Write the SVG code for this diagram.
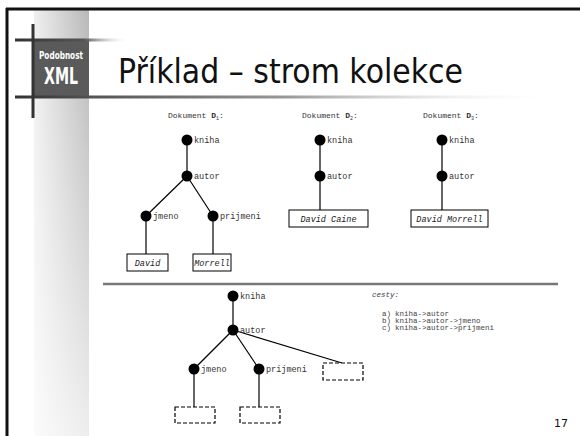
<svg xmlns="http://www.w3.org/2000/svg" width="580" height="436" viewBox="0 0 580 436">
<defs>
<linearGradient id="bandH" x1="0" y1="0" x2="1" y2="0">
<stop offset="0" stop-color="#f0f0f0"/><stop offset="1" stop-color="#b8b8b8"/>
</linearGradient>
<linearGradient id="bandV" x1="0" y1="0" x2="0" y2="1">
<stop offset="0" stop-color="#ffffff" stop-opacity="0"/><stop offset="1" stop-color="#ffffff" stop-opacity="0.75"/>
</linearGradient>
<linearGradient id="fadeShort" x1="0" y1="0" x2="1" y2="0">
<stop offset="0" stop-color="#333"/><stop offset="0.6" stop-color="#555"/><stop offset="1" stop-color="#fff" stop-opacity="0"/>
</linearGradient>
<linearGradient id="fadeLong" x1="0" y1="0" x2="1" y2="0">
<stop offset="0" stop-color="#333"/><stop offset="0.15" stop-color="#555"/><stop offset="0.5" stop-color="#999"/><stop offset="1" stop-color="#fff" stop-opacity="0"/>
</linearGradient>
<style>
.edge{stroke:#000;stroke-width:1.2;fill:none}
.dot{fill:#000}
.lbl{font-family:"Liberation Mono",monospace;font-size:8.5px;fill:#333}
.doc{font-family:"Liberation Mono",monospace;font-size:8px;fill:#333}
.val{font-family:"Liberation Mono",monospace;font-size:8.5px;font-style:italic;fill:#222;text-anchor:middle}
.box{fill:#fff;stroke:#000;stroke-width:1}
.dbox{fill:#fff;stroke:#000;stroke-width:1.2;stroke-dasharray:4,2}
.path{font-family:"Liberation Mono",monospace;font-size:7.5px;fill:#444}
</style>
</defs>
<rect width="580" height="436" fill="#fff"/>
<!-- decorative band -->
<rect x="34" y="10" width="55" height="426" fill="url(#bandH)"/>
<rect x="34" y="10" width="55" height="426" fill="url(#bandV)"/>
<!-- frame -->
<line x1="6" y1="9" x2="580" y2="9" stroke="#111" stroke-width="3"/>
<line x1="7" y1="8" x2="7" y2="436" stroke="#111" stroke-width="3"/>
<!-- logo -->
<g id="logo">
<rect x="34" y="40" width="55" height="57" fill="#5a5a5a"/>
<rect x="15" y="38.5" width="115" height="3" fill="url(#fadeShort)"/>
<rect x="15" y="95.5" width="545" height="3" fill="url(#fadeLong)"/>
<line x1="33" y1="24" x2="33" y2="118" stroke="#333" stroke-width="3"/>
<text x="61" y="59" text-anchor="middle" font-family="'DejaVu Sans Condensed','DejaVu Sans',sans-serif" font-weight="bold" font-size="10" fill="#fff" textLength="44" lengthAdjust="spacingAndGlyphs">Podobnost</text>
<text x="61" y="84" text-anchor="middle" font-family="'DejaVu Sans Condensed','DejaVu Sans',sans-serif" font-weight="bold" font-size="23" fill="#fff" textLength="34" lengthAdjust="spacingAndGlyphs">XML</text>
</g>
<text x="118" y="83" font-family="'DejaVu Sans',sans-serif" font-size="34" fill="#111" textLength="345" lengthAdjust="spacingAndGlyphs">Příklad – strom kolekce</text>
<text x="568" y="427" text-anchor="end" font-family="'DejaVu Sans',sans-serif" font-size="11" fill="#111">17</text>

<!-- document headings -->
<text class="doc" x="168" y="118">Dokument <tspan font-weight="bold">D</tspan><tspan font-size="5" dy="1.5">1</tspan><tspan dy="-1.5">:</tspan></text>
<text class="doc" x="302" y="118">Dokument <tspan font-weight="bold">D</tspan><tspan font-size="5" dy="1.5">2</tspan><tspan dy="-1.5">:</tspan></text>
<text class="doc" x="423" y="118">Dokument <tspan font-weight="bold">D</tspan><tspan font-size="5" dy="1.5">3</tspan><tspan dy="-1.5">:</tspan></text>

<!-- connectors -->
<g id="connectors">
<line class="edge" x1="187" y1="140" x2="187" y2="176"/>
<line class="edge" x1="187" y1="176" x2="146" y2="216"/>
<line class="edge" x1="187" y1="176" x2="213" y2="216"/>
<line class="edge" x1="146" y1="216" x2="146" y2="254"/>
<line class="edge" x1="213" y1="216" x2="213" y2="254"/>
<line class="edge" x1="320" y1="140" x2="320" y2="176"/>
<line class="edge" x1="320" y1="176" x2="320" y2="210"/>
<line class="edge" x1="442" y1="140" x2="442" y2="176"/>
<line class="edge" x1="442" y1="176" x2="442" y2="210"/>
<line class="edge" x1="233" y1="296" x2="233" y2="330"/>
<line class="edge" x1="233" y1="330" x2="194" y2="369"/>
<line class="edge" x1="233" y1="330" x2="259" y2="369"/>
<line class="edge" x1="233" y1="330" x2="342" y2="363"/>
<line class="edge" x1="194" y1="369" x2="194" y2="407"/>
<line class="edge" x1="259" y1="369" x2="259" y2="407"/>
</g>

<!-- tree D1 -->
<g id="d1-kniha"><circle class="dot" cx="187" cy="140" r="5.5"/><text class="lbl" x="194" y="143">kniha</text></g>
<g id="d1-autor"><circle class="dot" cx="187" cy="176" r="5.5"/><text class="lbl" x="194" y="179">autor</text></g>
<g id="d1-jmeno"><circle class="dot" cx="146" cy="216" r="5.5"/><text class="lbl" x="153" y="219">jmeno</text></g>
<g id="d1-prijmeni"><circle class="dot" cx="213" cy="216" r="5.5"/><text class="lbl" x="220" y="219">prijmeni</text></g>
<g id="d1-david"><rect class="box" x="127" y="254" width="41" height="17"/><text class="val" x="147.5" y="265.5">David</text></g>
<g id="d1-morrell"><rect class="box" x="193" y="254" width="38" height="17"/><text class="val" x="212" y="265.5">Morrell</text></g>

<!-- tree D2 -->
<g id="d2-kniha"><circle class="dot" cx="320" cy="140" r="5.5"/><text class="lbl" x="327" y="143">kniha</text></g>
<g id="d2-autor"><circle class="dot" cx="320" cy="176" r="5.5"/><text class="lbl" x="327" y="179">autor</text></g>
<g id="d2-value"><rect class="box" x="289" y="210" width="79" height="17"/><text class="val" x="328.5" y="221.5">David Caine</text></g>

<!-- tree D3 -->
<g id="d3-kniha"><circle class="dot" cx="442" cy="140" r="5.5"/><text class="lbl" x="449" y="143">kniha</text></g>
<g id="d3-autor"><circle class="dot" cx="442" cy="176" r="5.5"/><text class="lbl" x="449" y="179">autor</text></g>
<g id="d3-value"><rect class="box" x="411" y="210" width="77" height="17"/><text class="val" x="449.5" y="221.5">David Morrell</text></g>

<!-- separator -->
<line x1="103" y1="284" x2="558" y2="284" stroke="#777" stroke-width="2.5"/>

<!-- collection tree -->
<g id="c-kniha"><circle class="dot" cx="233" cy="296" r="5.5"/><text class="lbl" x="240" y="299">kniha</text></g>
<g id="c-autor"><circle class="dot" cx="233" cy="330" r="5.5"/><text class="lbl" x="240" y="333">autor</text></g>
<g id="c-jmeno"><circle class="dot" cx="194" cy="369" r="5.5"/><text class="lbl" x="201" y="372">jmeno</text></g>
<g id="c-prijmeni"><circle class="dot" cx="259" cy="369" r="5.5"/><text class="lbl" x="266" y="372">prijmeni</text></g>
<g id="c-box1"><rect class="dbox" x="175" y="407" width="40" height="16"/></g>
<g id="c-box2"><rect class="dbox" x="240" y="407" width="40" height="16"/></g>
<g id="c-box3"><rect class="dbox" x="323" y="363" width="40" height="17"/></g>

<!-- paths -->
<g id="paths">
<text class="path" x="372" y="297" font-style="italic">cesty:</text>
<text class="path" x="382" y="316">a)</text><text class="path" x="395" y="316">kniha-&gt;autor</text>
<text class="path" x="382" y="323">b)</text><text class="path" x="395" y="323">kniha-&gt;autor-&gt;jmeno</text>
<text class="path" x="382" y="330">c)</text><text class="path" x="395" y="330">kniha-&gt;autor-&gt;prijmeni</text>
</g>
</svg>
